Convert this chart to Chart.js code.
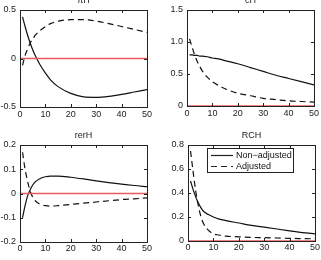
<!DOCTYPE html>
<html>
<head>
<meta charset="utf-8">
<script src="https://cdn.jsdelivr.net/npm/chart.js@4"></script>
<style>
  body { margin: 0; background: #fff; }
  #wrap { position: relative; width: 321px; height: 260px; overflow: hidden; }
  .box { position: absolute; }
</style>
</head>
<body>
<div id="wrap">
  <div class="box" style="left:0;top:0;width:160px;height:130px"><canvas id="c1"></canvas></div>
  <div class="box" style="left:160px;top:0;width:161px;height:130px"><canvas id="c2"></canvas></div>
  <div class="box" style="left:0;top:125px;width:160px;height:135px"><canvas id="c3"></canvas></div>
  <div class="box" style="left:160px;top:125px;width:161px;height:135px"><canvas id="c4"></canvas></div>
</div>
<script>
// horizon (quarters)
const periods = [1, 2, 3, 4, 5, 6, 8, 10, 12, 15, 20, 25, 30, 35, 40, 45, 50];

const piH_nonAdj = [0.43, 0.33, 0.24, 0.16, 0.09, 0.03, -0.07, -0.15, -0.22, -0.29, -0.36, -0.395, -0.40, -0.39, -0.37, -0.345, -0.32];
const piH_adj = [-0.07, 0.03, 0.10, 0.16, 0.20, 0.24, 0.29, 0.33, 0.36, 0.385, 0.40, 0.40, 0.385, 0.36, 0.33, 0.30, 0.27];

const cH_nonAdj = [0.80, 0.80, 0.79, 0.79, 0.78, 0.78, 0.77, 0.75, 0.74, 0.71, 0.66, 0.60, 0.54, 0.48, 0.43, 0.38, 0.33];
const cH_adj = [1.05, 0.92, 0.80, 0.70, 0.62, 0.55, 0.45, 0.38, 0.33, 0.27, 0.20, 0.16, 0.12, 0.10, 0.08, 0.07, 0.06];

const rerH_nonAdj = [-0.10, -0.05, -0.01, 0.015, 0.035, 0.048, 0.062, 0.069, 0.072, 0.072, 0.067, 0.060, 0.052, 0.045, 0.039, 0.033, 0.028];
const rerH_adj = [0.17, 0.10, 0.05, 0.01, -0.015, -0.03, -0.045, -0.05, -0.052, -0.05, -0.045, -0.04, -0.035, -0.03, -0.025, -0.022, -0.018];

const RCH_nonAdj = [0.50, 0.43, 0.37, 0.32, 0.28, 0.25, 0.22, 0.20, 0.185, 0.17, 0.15, 0.13, 0.115, 0.10, 0.085, 0.07, 0.06];
const RCH_adj = [0.75, 0.58, 0.42, 0.30, 0.21, 0.15, 0.09, 0.06, 0.05, 0.04, 0.035, 0.03, 0.028, 0.025, 0.022, 0.02, 0.018];

const zeroLine = [0, 0];
const zeroX = [0, 50];

const xTicks = [0, 10, 20, 30, 40, 50];
const legendLabels = ["Non\u2212adjusted", "Adjusted"];

const FONT = "Liberation Sans, Arial, sans-serif";

function pts(xs, ys) {
  return xs.map((x, i) => ({ x: x, y: ys[i] }));
}

// matlab style box with inward ticks, title and optional legend
const matlabBox = {
  id: "matlabBox",
  afterDraw(chart, args, opts) {
    const ctx = chart.ctx;
    const a = chart.chartArea;
    const xs = chart.scales.x;
    const ys = chart.scales.y;
    ctx.save();
    ctx.strokeStyle = "#222";
    ctx.lineWidth = 1;
    ctx.strokeRect(Math.round(a.left) + 0.5, Math.round(a.top) + 0.5, Math.round(a.right - a.left), Math.round(a.bottom - a.top));
    ctx.beginPath();
    xs.ticks.forEach((t) => {
      const px = Math.round(xs.getPixelForValue(t.value)) + 0.5;
      ctx.moveTo(px, a.bottom); ctx.lineTo(px, a.bottom - 3);
      ctx.moveTo(px, a.top); ctx.lineTo(px, a.top + 3);
    });
    ys.ticks.forEach((t) => {
      const py = Math.round(ys.getPixelForValue(t.value)) + 0.5;
      ctx.moveTo(a.left, py); ctx.lineTo(a.left + 3, py);
      ctx.moveTo(a.right, py); ctx.lineTo(a.right - 3, py);
    });
    ctx.stroke();

    ctx.fillStyle = "#222";
    ctx.font = "9px " + FONT;
    ctx.textAlign = "center";
    ctx.textBaseline = "alphabetic";
    ctx.fillText(opts.title, (a.left + a.right) / 2, a.top - 7);

    if (opts.legend) {
      const lx = a.left + 19, ly = a.top + 3, lw = 86, lh = 24;
      ctx.fillStyle = "#fff";
      ctx.fillRect(lx, ly, lw, lh);
      ctx.strokeStyle = "#222";
      ctx.strokeRect(lx + 0.5, ly + 0.5, lw, lh);
      ctx.lineWidth = 1.2;
      ctx.beginPath();
      ctx.moveTo(lx + 4, ly + 7.5); ctx.lineTo(lx + 26, ly + 7.5);
      ctx.stroke();
      ctx.setLineDash([6, 4]);
      ctx.beginPath();
      ctx.moveTo(lx + 4, ly + 18.5); ctx.lineTo(lx + 26, ly + 18.5);
      ctx.stroke();
      ctx.setLineDash([]);
      ctx.fillStyle = "#111";
      ctx.textAlign = "left";
      ctx.textBaseline = "middle";
      ctx.fillText(legendLabels[0], lx + 29, ly + 7.5);
      ctx.fillText(legendLabels[1], lx + 29, ly + 18.5);
    }
    ctx.restore();
  },
};

function makeChart(id, title, nonAdj, adj, yMin, yMax, yStep, pad, legend) {
  const canvas = document.getElementById(id);
  return new Chart(canvas, {
    type: "line",
    data: {
      datasets: [
        {
          data: pts(zeroX, zeroLine),
          borderColor: "#e85c5c",
          borderWidth: 1.5,
          pointRadius: 0,
        },
        {
          label: legendLabels[0],
          data: pts(periods, nonAdj),
          borderColor: "#111",
          borderWidth: 1.2,
          pointRadius: 0,
          cubicInterpolationMode: "monotone",
        },
        {
          label: legendLabels[1],
          data: pts(periods, adj),
          borderColor: "#111",
          borderWidth: 1.2,
          borderDash: [6, 4],
          pointRadius: 0,
          cubicInterpolationMode: "monotone",
        },
      ],
    },
    options: {
      responsive: true,
      maintainAspectRatio: false,
      animation: false,
      layout: { padding: { top: pad.top, right: pad.right, left: 0, bottom: 0 } },
      plugins: {
        legend: { display: false },
        tooltip: { enabled: false },
        matlabBox: { title: title, legend: legend },
      },
      scales: {
        x: {
          type: "linear",
          min: 0,
          max: 50,
          afterBuildTicks: (s) => { s.ticks = xTicks.map((v) => ({ value: v })); },
          grid: { display: false, drawTicks: false },
          border: { display: false },
          ticks: { color: "#222", font: { size: 9, family: FONT }, padding: pad.xp, maxRotation: 0 },
          afterFit: (s) => { s.height = pad.xh; },
        },
        y: {
          min: yMin,
          max: yMax,
          ticks: { stepSize: yStep, color: "#222", font: { size: 9, family: FONT }, padding: 4 },
          grid: { display: false, drawTicks: false },
          border: { display: false },
          afterFit: (s) => { s.width = pad.yw; },
        },
      },
    },
    plugins: [matlabBox],
  });
}

makeChart("c1", "\u03c0H", piH_nonAdj, piH_adj, -0.5, 0.5, 0.5, { top: 10, right: 13, xh: 23, yw: 20, xp: 2 }, false);
makeChart("c2", "cH", cH_nonAdj, cH_adj, 0, 1.5, 0.5, { top: 10, right: 6, xh: 24, yw: 27, xp: 2 }, false);
makeChart("c3", "rerH", rerH_nonAdj, rerH_adj, -0.2, 0.2, 0.1, { top: 20, right: 13, xh: 18, yw: 20, xp: 1 }, false);
makeChart("c4", "RCH", RCH_nonAdj, RCH_adj, 0, 0.8, 0.2, { top: 20, right: 6, xh: 19, yw: 28, xp: 1 }, true);
</script>
</body>
</html>
